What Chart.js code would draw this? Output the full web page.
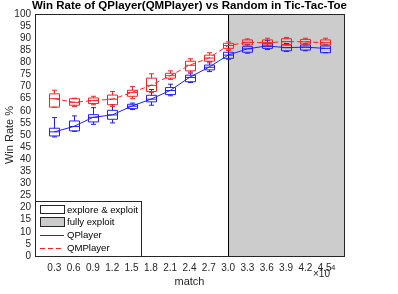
<!DOCTYPE html>
<html>
<head>
<meta charset="utf-8">
<script src="https://cdn.jsdelivr.net/npm/chart.js@4.4.0/dist/chart.umd.min.js"></script>
<style>
  html, body { margin: 0; padding: 0; background: #fff; }
</style>
</head>
<body>
<canvas id="myChart" width="398" height="294"></canvas>
<script>
// match count, in units of 10^4
var matches = [0.3, 0.6, 0.9, 1.2, 1.5, 1.8, 2.1, 2.4, 2.7, 3.0, 3.3, 3.6, 3.9, 4.2, 4.5];
var exploitStart = 3.0;

// QPlayer box statistics (win rate %)
var qLow  = [49.2, 51.5, 54.4, 55.0, 60.5, 62.3, 66.2, 71.7, 76.2, 81.3, 83.8, 85.3, 84.5, 84.8, 84.0];
var qQ1   = [49.6, 51.7, 55.4, 56.5, 60.9, 63.7, 66.7, 72.0, 76.9, 81.7, 84.2, 85.8, 84.8, 85.1, 84.0];
var qMed  = [51.3, 53.5, 57.3, 58.3, 61.9, 64.8, 68.4, 73.8, 78.0, 83.0, 85.6, 86.8, 86.1, 86.3, 85.8];
var qQ3   = [52.8, 55.8, 58.4, 60.2, 62.7, 66.4, 69.6, 74.7, 78.9, 84.2, 86.5, 87.9, 87.2, 87.2, 86.8];
var qHigh = [57.2, 57.9, 61.3, 62.5, 63.2, 68.8, 71.0, 76.0, 80.3, 85.1, 87.5, 89.0, 87.8, 87.7, 87.2];

// QMPlayer box statistics (win rate %)
var mLow  = [61.5, 61.8, 62.5, 61.8, 65.0, 67.5, 73.0, 75.5, 79.8, 85.0, 86.8, 86.5, 87.2, 87.1, 86.9];
var mQ1   = [61.5, 62.3, 63.0, 62.5, 66.0, 68.0, 73.5, 76.5, 80.5, 85.8, 87.2, 87.6, 87.4, 87.6, 87.2];
var mMed  = [65.0, 63.5, 64.2, 64.8, 67.5, 70.5, 74.5, 78.8, 81.8, 87.0, 88.3, 88.1, 88.6, 88.5, 88.1];
var mQ3   = [67.0, 65.0, 65.3, 66.5, 68.5, 73.5, 75.5, 80.5, 83.0, 87.9, 89.3, 89.3, 89.8, 89.5, 89.3];
var mHigh = [68.5, 65.2, 66.0, 68.0, 70.0, 75.3, 76.5, 81.5, 84.0, 88.5, 89.7, 90.0, 90.3, 90.0, 90.0];

var yTicks = [0, 5, 10, 15, 20, 25, 30, 35, 40, 45, 50, 55, 60, 65, 70, 75, 80, 85, 90, 95, 100];

var BLUE = '#1f1fff';
var RED = '#ff2020';
var FONT = '"Liberation Sans", Arial, sans-serif';
var TEXT = '#262626';

function points(ys) {
    return matches.map(function (m, i) { return { x: m, y: ys[i] }; });
}

function drawBoxes(c, xs, ys, low, q1, med, q3, high, color) {
    c.strokeStyle = color;
    c.lineWidth = 1;
    for (var i = 0; i < matches.length; i++) {
        var px = Math.round(xs.getPixelForValue(matches[i])) + 0.5;
        var hw = 5, cw = 2.5;
        var yl = ys.getPixelForValue(low[i]), y1 = ys.getPixelForValue(q1[i]);
        var ym = ys.getPixelForValue(med[i]), y3 = ys.getPixelForValue(q3[i]);
        var yh = ys.getPixelForValue(high[i]);
        c.beginPath();
        c.rect(px - hw, y3, hw * 2, y1 - y3);
        c.moveTo(px - hw, ym); c.lineTo(px + hw, ym);
        c.moveTo(px, y3); c.lineTo(px, yh);
        c.moveTo(px, y1); c.lineTo(px, yl);
        c.moveTo(px - cw, yh); c.lineTo(px + cw, yh);
        c.moveTo(px - cw, yl); c.lineTo(px + cw, yl);
        c.stroke();
    }
}

var boxPlugin = {
    id: 'boxes',
    beforeDatasetsDraw: function (chart) {
        var c = chart.ctx, a = chart.chartArea, xs = chart.scales.x, ys = chart.scales.y;
        var gx = Math.round(xs.getPixelForValue(exploitStart)) + 0.5;
        c.save();
        c.fillStyle = '#cccccc';
        c.fillRect(gx, a.top, a.right - gx, a.bottom - a.top);
        c.strokeStyle = '#000';
        c.lineWidth = 1;
        c.beginPath(); c.moveTo(gx, a.top); c.lineTo(gx, a.bottom); c.stroke();
        drawBoxes(c, xs, ys, qLow, qQ1, qMed, qQ3, qHigh, BLUE);
        drawBoxes(c, xs, ys, mLow, mQ1, mMed, mQ3, mHigh, RED);
        c.restore();
    },
    afterDraw: function (chart) {
        var c = chart.ctx, a = chart.chartArea;
        c.save();
        // frame
        c.strokeStyle = TEXT;
        c.lineWidth = 1;
        c.strokeRect(Math.round(a.left) + 0.5, Math.round(a.top) + 0.5,
            Math.round(a.right - a.left), Math.round(a.bottom - a.top));

        // title
        c.fillStyle = '#000';
        c.font = 'bold 11.5px ' + FONT;
        c.textAlign = 'center';
        c.textBaseline = 'middle';
        c.fillText('Win Rate of QPlayer(QMPlayer) vs Random in Tic-Tac-Toe', (a.left + a.right) / 2, 6);

        // x10^4 exponent
        c.fillStyle = TEXT;
        c.font = '10px ' + FONT;
        c.textAlign = 'left';
        c.fillText('\u00d710', 313, 274);
        c.font = '8px ' + FONT;
        c.fillText('4', 331, 268);

        // legend
        var lx = Math.round(a.left) + 0.5, ly = 201.5, lw = 106, lh = Math.round(a.bottom) - 201;
        c.fillStyle = '#fff';
        c.fillRect(lx, ly, lw, lh);
        c.strokeStyle = TEXT;
        c.strokeRect(lx, ly, lw, lh);
        c.strokeRect(40.5, 205.5, 24, 8);
        c.fillStyle = '#cccccc';
        c.fillRect(40.5, 217.5, 24, 9);
        c.strokeRect(40.5, 217.5, 24, 9);
        c.strokeStyle = BLUE;
        c.beginPath(); c.moveTo(40, 235.5); c.lineTo(64, 235.5); c.stroke();
        c.strokeStyle = RED;
        c.setLineDash([5, 3]);
        c.beginPath(); c.moveTo(40, 248.5); c.lineTo(64, 248.5); c.stroke();
        c.setLineDash([]);
        c.fillStyle = '#000';
        c.font = '9.6px ' + FONT;
        c.textAlign = 'left';
        c.fillText('explore & exploit', 67, 210);
        c.fillText('fully exploit', 67, 222);
        c.fillText('QPlayer', 67, 235);
        c.fillText('QMPlayer', 67, 248);
        c.restore();
    }
};

var ctx = document.getElementById('myChart').getContext('2d');
var chart = new Chart(ctx, {
    type: 'line',
    data: {
        datasets: [{
            label: 'QPlayer',
            data: points(qMed),
            borderColor: BLUE,
            borderWidth: 1,
            pointRadius: 0,
            fill: false
        }, {
            label: 'QMPlayer',
            data: points(mMed),
            borderColor: RED,
            borderWidth: 1,
            borderDash: [5, 3],
            pointRadius: 0,
            fill: false
        }]
    },
    options: {
        responsive: false,
        animation: false,
        layout: { padding: { top: 14, right: 54, left: 0, bottom: 0 } },
        plugins: {
            legend: { display: false },
            title: { display: false },
            tooltip: { enabled: false }
        },
        scales: {
            x: {
                type: 'linear',
                min: 0,
                max: 4.8,
                afterBuildTicks: function (s) { s.ticks = matches.map(function (v) { return { value: v }; }); },
                afterFit: function (s) { s.height = 38; },
                grid: { display: false, drawTicks: false },
                border: { display: false },
                ticks: {
                    padding: 6,
                    maxRotation: 0,
                    autoSkip: false,
                    color: TEXT,
                    font: { family: FONT, size: 10 },
                    callback: function (v) { return v.toFixed(1); }
                },
                title: {
                    display: true,
                    text: 'match',
                    color: TEXT,
                    font: { family: FONT, size: 11 },
                    padding: { top: 0, bottom: 5 }
                }
            },
            y: {
                min: 0,
                max: 100,
                afterBuildTicks: function (s) { s.ticks = yTicks.map(function (v) { return { value: v }; }); },
                afterFit: function (s) { s.width = 35; },
                grid: { display: false, drawTicks: false },
                border: { display: false },
                ticks: {
                    padding: 4,
                    autoSkip: false,
                    color: TEXT,
                    font: { family: FONT, size: 10 }
                },
                title: {
                    display: true,
                    text: 'Win Rate %',
                    color: TEXT,
                    font: { family: FONT, size: 11 },
                    padding: { top: 3, bottom: 0 }
                }
            }
        }
    },
    plugins: [boxPlugin]
});
</script>
</body>
</html>
